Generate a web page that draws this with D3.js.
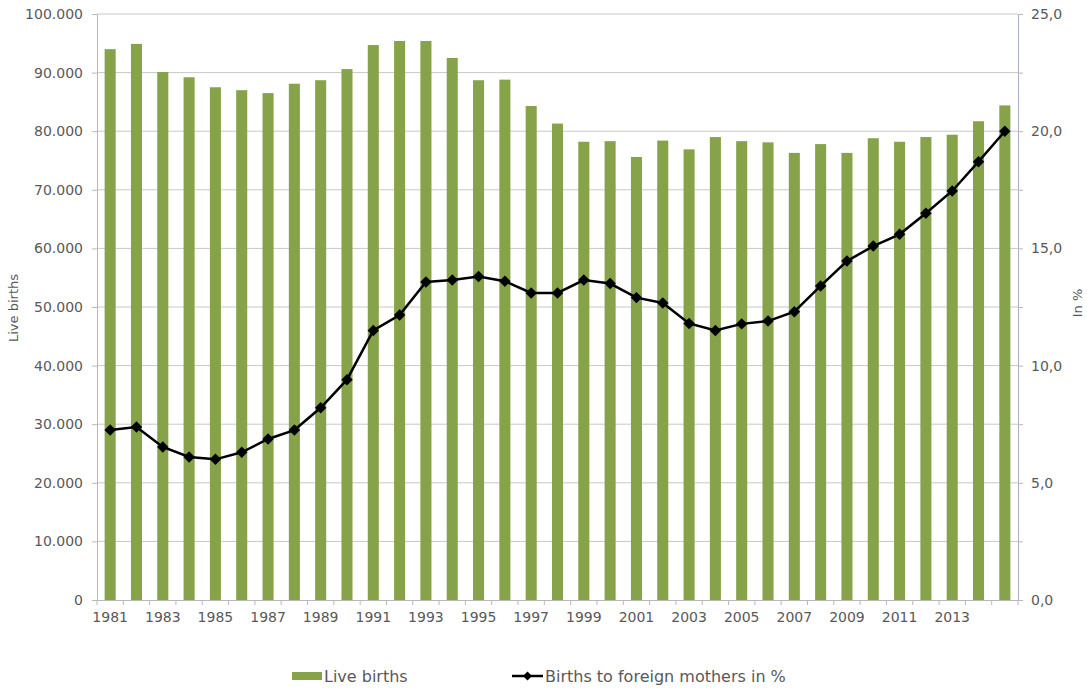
<!DOCTYPE html>
<html>
<head>
<meta charset="utf-8">
<script src="https://cdn.jsdelivr.net/npm/d3@7"></script>
<style>
  body { margin: 0; background: #fff; }
  text { font-family: "DejaVu Sans", sans-serif; fill: #595959; }
</style>
</head>
<body>
<div class="chart"></div>
<script>
// data
const years = d3.range(1981, 2016)
const liveBirths = [94000, 94900, 90100, 89200, 87500, 87000, 86500, 88100, 88700, 90600,
  94700, 95400, 95400, 92500, 88700, 88800, 84300, 81300, 78200, 78300,
  75600, 78400, 76900, 79000, 78300, 78100, 76300, 77800, 76300, 78800,
  78200, 79000, 79400, 81700, 84400]
const foreignPct = [7.25, 7.38, 6.53, 6.1, 6.0, 6.3, 6.87, 7.25, 8.2, 9.4,
  11.5, 12.16, 13.57, 13.65, 13.8, 13.6, 13.1, 13.1, 13.65, 13.5,
  12.9, 12.67, 11.8, 11.5, 11.78, 11.9, 12.3, 13.4, 14.46, 15.1,
  15.6, 16.5, 17.45, 18.7, 20.0]
const leftTicks = d3.range(0, 100001, 10000)
const rightTicks = d3.range(0, 25.1, 2.5)

const w = 1087
const h = 690
const padL = 97, padR = 1018, padT = 14, padB = 600

const svg = d3.select(".chart").append("svg")
  .attr("width", w).attr("height", h)

const x = d3.scaleBand().domain(years).range([padL, padR]).paddingInner(0.58).paddingOuter(0.29)
const band = d3.scaleBand().domain(years).range([padL, padR])
const yL = d3.scaleLinear().domain([0, 100000]).range([padB, padT])
const yR = d3.scaleLinear().domain([0, 25]).range([padB, padT])

// gridlines
svg.append("g").selectAll("line")
  .data(leftTicks.slice(1))
  .enter().append("line")
  .attr("x1", padL).attr("x2", padR)
  .attr("y1", d => yL(d)).attr("y2", d => yL(d))
  .attr("stroke", "#c8c8c8").attr("stroke-width", 1)

// bars
svg.append("g").selectAll("rect")
  .data(years)
  .enter().append("rect")
  .attr("x", d => x(d))
  .attr("width", x.bandwidth())
  .attr("y", (d, i) => yL(liveBirths[i]))
  .attr("height", (d, i) => padB - yL(liveBirths[i]))
  .attr("fill", "#86a34a")

// left axis
const leftAxis = d3.axisLeft(yL).tickValues(leftTicks).tickSize(5).tickPadding(9)
  .tickFormat(d => d === 0 ? "0" : d3.format(",")(d).replace(/,/g, "."))
const gl = svg.append("g").attr("transform", `translate(${padL},0)`).call(leftAxis)
gl.select(".domain").attr("stroke", "#b8b8b8")
gl.selectAll(".tick line").attr("stroke", "#b8b8b8")
gl.selectAll("text").style("font-size", "14px")

// right axis
const rightAxis = d3.axisRight(yR).tickValues(rightTicks).tickSize(5).tickPadding(8)
  .tickFormat(d => d % 5 === 0 ? d3.format(".1f")(d).replace(".", ",") : "")
const gr = svg.append("g").attr("transform", `translate(${padR},0)`).call(rightAxis)
gr.select(".domain").attr("stroke", "#a9b0c0")
gr.selectAll(".tick line").attr("stroke", "#b8b8b8")
gr.selectAll("text").style("font-size", "14px")

// x axis
const xAxis = d3.axisBottom(band).tickSize(0).tickPadding(12)
  .tickFormat(d => (d % 2 === 1 && d < 2015) ? d : "")
const gx = svg.append("g").attr("transform", `translate(0,${padB})`).call(xAxis)
gx.select(".domain").attr("stroke", "#b8b8b8")
gx.selectAll("text").style("font-size", "14px")
svg.append("g").selectAll("line")
  .data(years.concat([2016]))
  .enter().append("line")
  .attr("x1", d => d === 2016 ? padR : band(d)).attr("x2", d => d === 2016 ? padR : band(d))
  .attr("y1", padB).attr("y2", padB + 5)
  .attr("stroke", "#b8b8b8")

// line
const line = d3.line()
  .x(d => band(d) + band.bandwidth() / 2)
  .y((d, i) => yR(foreignPct[i]))
svg.append("path")
  .datum(years)
  .attr("d", line)
  .attr("fill", "none")
  .attr("stroke", "#000")
  .attr("stroke-width", 2.5)

const diamond = d3.symbol().type(d3.symbolSquare).size(66)
svg.append("g").selectAll("path")
  .data(years)
  .enter().append("path")
  .attr("d", diamond)
  .attr("transform", (d, i) => `translate(${band(d) + band.bandwidth() / 2},${yR(foreignPct[i])}) rotate(45)`)
  .attr("fill", "#000")

// axis titles
svg.append("text")
  .attr("transform", "translate(18,308) rotate(-90)")
  .attr("text-anchor", "middle")
  .style("font-size", "13px")
  .text("Live births")
svg.append("text")
  .attr("transform", "translate(1082,303) rotate(-90)")
  .attr("text-anchor", "middle")
  .style("font-size", "13px")
  .text("In %")

// legend
svg.append("rect").attr("x", 292).attr("y", 672).attr("width", 30).attr("height", 8).attr("fill", "#86a34a")
svg.append("text").attr("x", 324).attr("y", 682).style("font-size", "16px").text("Live births")
svg.append("line").attr("x1", 512).attr("x2", 543).attr("y1", 676).attr("y2", 676)
  .attr("stroke", "#000").attr("stroke-width", 2.5)
svg.append("path").attr("d", d3.symbol().type(d3.symbolSquare).size(40))
  .attr("transform", "translate(527.5,676) rotate(45)").attr("fill", "#000")
svg.append("text").attr("x", 545).attr("y", 682).style("font-size", "16px").text("Births to foreign mothers in %")
</script>
</body>
</html>
